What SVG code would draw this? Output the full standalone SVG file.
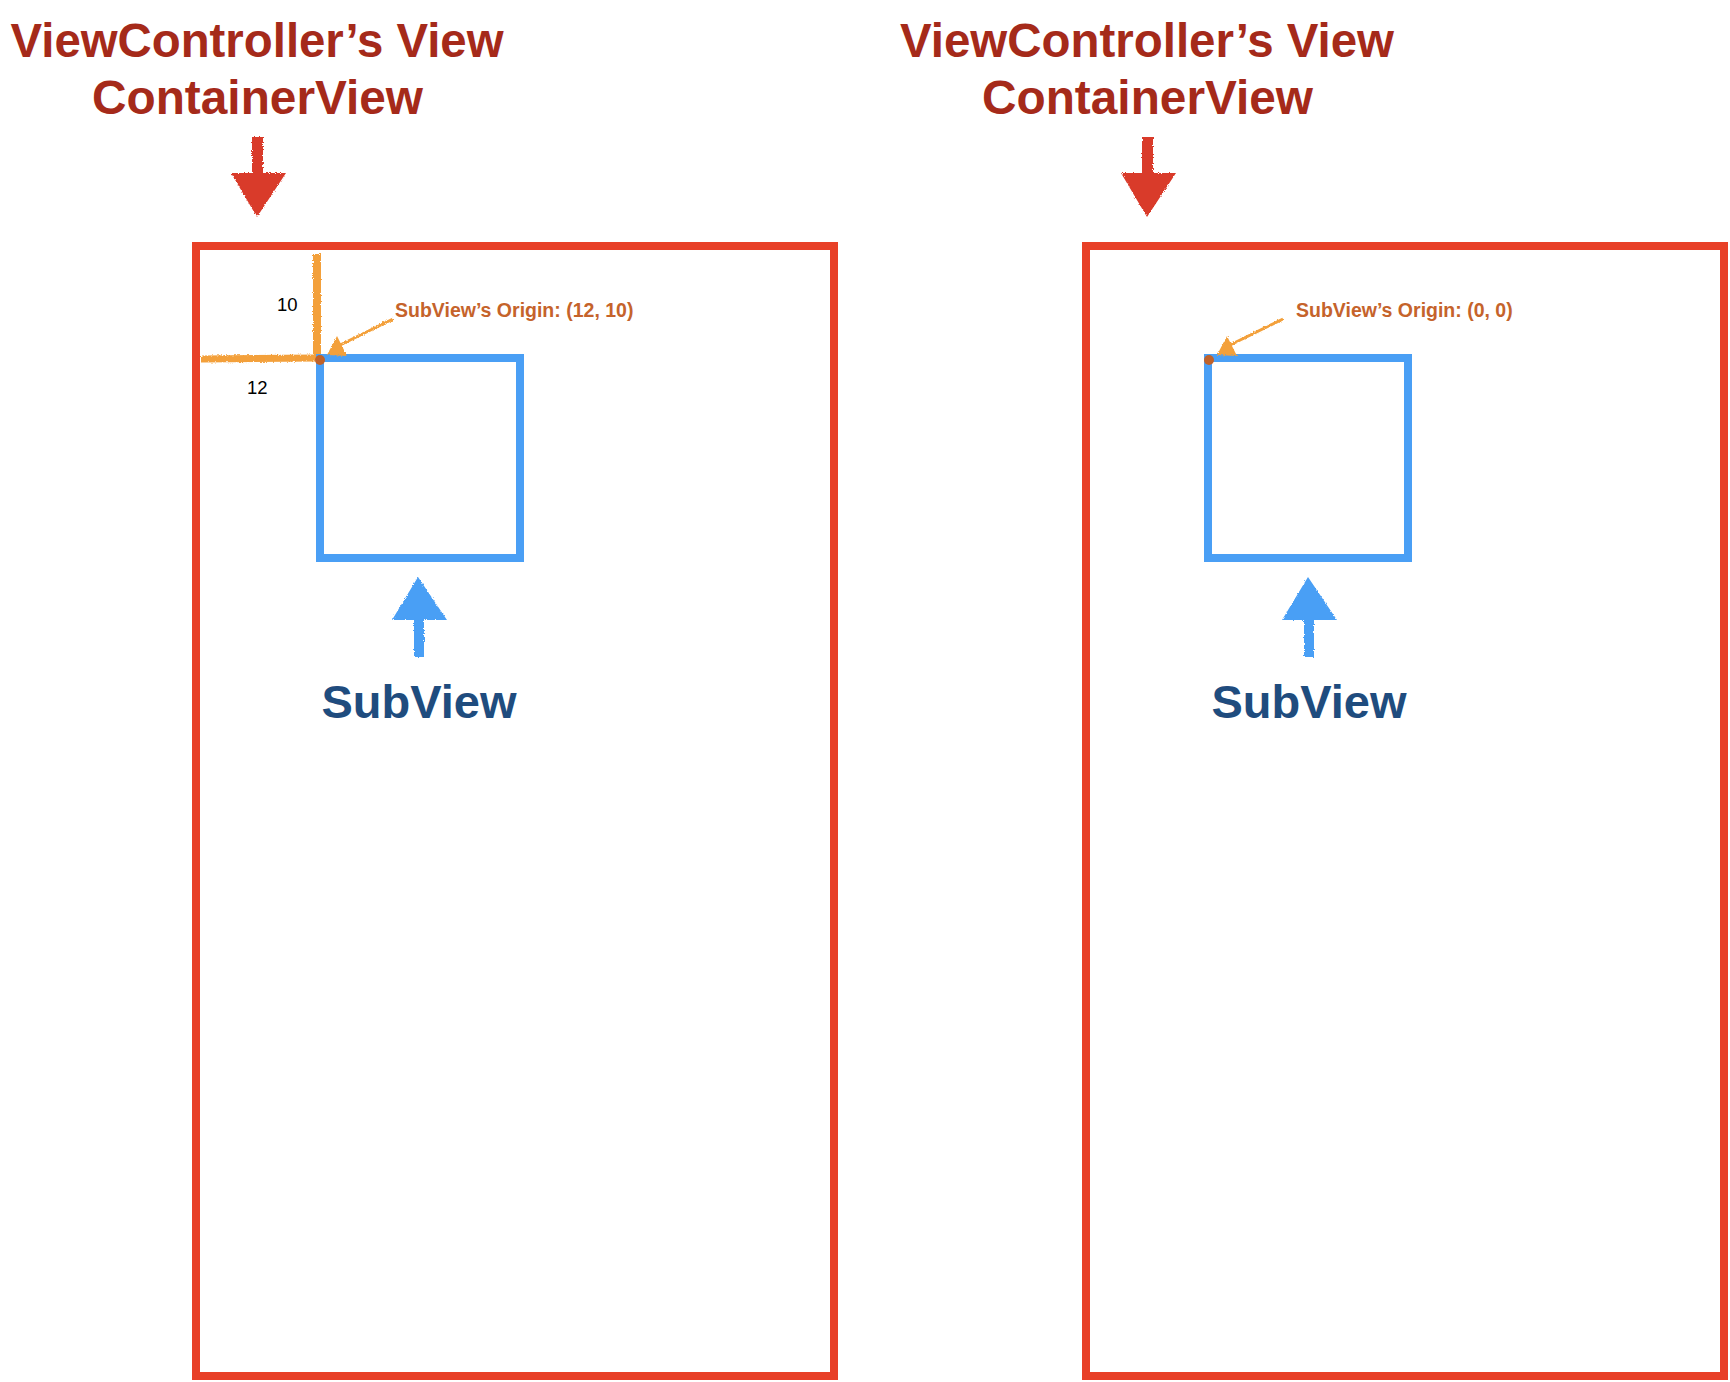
<svg xmlns="http://www.w3.org/2000/svg" width="1730" height="1382" viewBox="0 0 1730 1382">
<style>
.head{font-family:"Liberation Sans",Arial,sans-serif;font-weight:bold;font-size:47.5px;fill:#A52A1A;text-anchor:middle}
.sub{font-family:"Liberation Sans",Arial,sans-serif;font-weight:bold;font-size:47px;fill:#1F4C7E;text-anchor:middle}
.orig{font-family:"Liberation Sans",Arial,sans-serif;font-weight:bold;font-size:19.5px;fill:#C5632B}
.num{font-family:"Liberation Sans",Arial,sans-serif;font-size:18.5px;fill:#000}
.container{fill:none;stroke:#E84027;stroke-width:8}
.subview{fill:none;stroke:#4A9FF5;stroke-width:8}
.redarrow{fill:#D93A2B;filter:url(#rough)}
.bluearrow{fill:#4A9FF5;filter:url(#rough)}
.orangeline{stroke:#F3A03A;fill:none;filter:url(#rough)}
.orangehead{fill:#F3A03A;filter:url(#rough)}
.dot{fill:#C0622A}
</style>
<defs>
<filter id="rough" filterUnits="userSpaceOnUse" x="0" y="0" width="1730" height="1382">
<feTurbulence type="fractalNoise" baseFrequency="0.9" numOctaves="2" seed="3" result="n"/>
<feDisplacementMap in="SourceGraphic" in2="n" scale="3" xChannelSelector="R" yChannelSelector="G"/>
</filter>
</defs>
<rect width="1730" height="1382" fill="#ffffff"/>

<g id="left-panel">
<g id="left-heading">
<text class="head" x="257" y="57" textLength="493" lengthAdjust="spacingAndGlyphs">ViewController’s View</text>
<text class="head" x="257.5" y="114" textLength="331" lengthAdjust="spacingAndGlyphs">ContainerView</text>
</g>
<g id="left-container">
<rect class="container" x="196" y="246" width="638" height="1130"/>
</g>
<g id="left-subview">
<rect class="subview" x="320" y="358" width="200" height="200"/>
<text class="sub" x="419" y="718">SubView</text>
</g>
<g id="left-origin">
<text class="orig" x="395" y="317">SubView’s Origin: (12, 10)</text>
<text class="num" x="277" y="311">10</text>
<text class="num" x="247" y="394">12</text>
</g>
</g>

<g id="right-panel">
<g id="right-heading">
<text class="head" x="1147" y="57" textLength="494" lengthAdjust="spacingAndGlyphs">ViewController’s View</text>
<text class="head" x="1147.5" y="114" textLength="331" lengthAdjust="spacingAndGlyphs">ContainerView</text>
</g>
<g id="right-container">
<rect class="container" x="1086" y="246" width="638" height="1130"/>
</g>
<g id="right-subview">
<rect class="subview" x="1208" y="358" width="200" height="200"/>
<text class="sub" x="1309" y="718">SubView</text>
</g>
<g id="right-origin">
<text class="orig" x="1296" y="317">SubView’s Origin: (0, 0)</text>
</g>
</g>

<g id="connectors">
<path class="redarrow" d="M252,137 L263,137 L263,173 L286,173 L257,217 L231,173 L252,173 Z"/>
<path class="redarrow" d="M1142,137 L1153,137 L1153,173 L1176,173 L1147,217 L1121,173 L1142,173 Z"/>
<path class="bluearrow" d="M418,577 L447,620 L424,620 L424,657 L414,657 L414,620 L392,620 Z"/>
<path class="bluearrow" d="M1308,577 L1337,620 L1314,620 L1314,657 L1304,657 L1304,620 L1282,620 Z"/>
<line class="orangeline" x1="317" y1="254" x2="317" y2="354" stroke-width="8"/>
<line class="orangeline" x1="201" y1="359" x2="316" y2="358" stroke-width="7"/>
<line class="orangeline" x1="393" y1="319" x2="338" y2="346" stroke-width="3"/>
<polygon class="orangehead" points="337,336 327,355 347,356"/>
<line class="orangeline" x1="1283" y1="319" x2="1228" y2="346" stroke-width="3"/>
<polygon class="orangehead" points="1227,336 1217,355 1237,356"/>
<circle class="dot" cx="320" cy="360" r="5"/>
<circle class="dot" cx="1209" cy="360" r="5"/>
</g>
</svg>
